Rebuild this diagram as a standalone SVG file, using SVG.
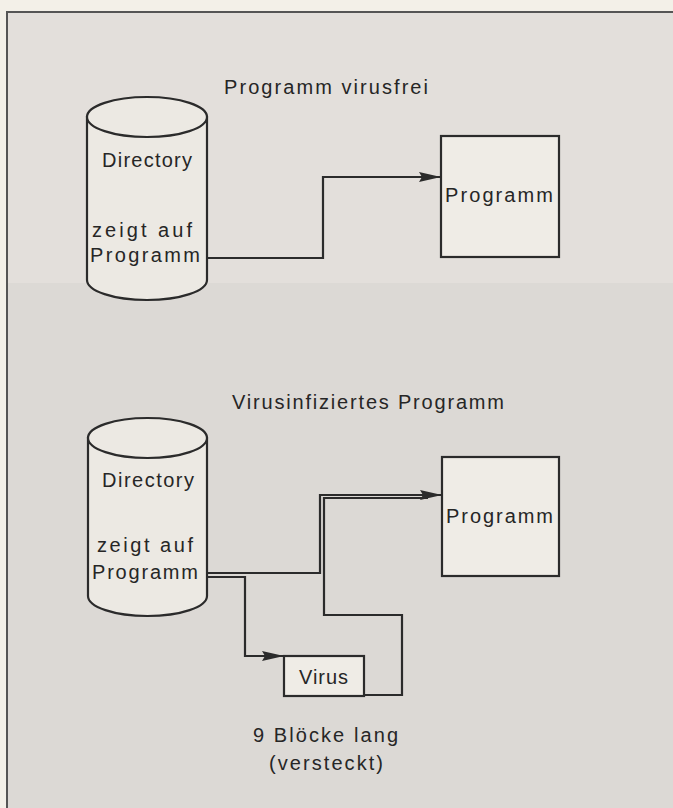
<svg xmlns="http://www.w3.org/2000/svg" width="673" height="808" viewBox="0 0 673 808">
<defs>
<style>
.ln{fill:none;stroke:#2b2b2b;stroke-width:2.2;stroke-linejoin:miter}
.sh{fill:#ece9e3;stroke:#2b2b2b;stroke-width:2.2}
.bx{fill:#efece6;stroke:#2b2b2b;stroke-width:2.2}
.t{font-family:"Liberation Sans",Arial,sans-serif;font-size:20px;fill:#262626;text-anchor:middle}
</style>
<marker id="ah" markerUnits="userSpaceOnUse" markerWidth="24" markerHeight="14" refX="22" refY="7" orient="auto">
<path d="M0,2 L22,7 L0,12 L3,7 z" fill="#2b2b2b"/>
</marker>
</defs>
<rect x="0" y="0" width="673" height="808" fill="#f3f0e8"/>
<rect x="7" y="12" width="666" height="796" fill="#dcd9d5"/>
<rect x="8" y="13" width="665" height="270" fill="#e3dfdb"/>
<path d="M7,808 V12 H673" fill="none" stroke="#555" stroke-width="2"/>

<g id="title-top"><text class="t" x="326" y="94" textLength="204" lengthAdjust="spacing">Programm virusfrei</text></g>

<g id="dir-top">
<path class="sh" d="M87,117 V280 A60,20 0 0 0 207,280 V117 Z"/>
<ellipse class="sh" cx="147" cy="117" rx="60" ry="20"/>
<text class="t" x="147" y="167" textLength="90" lengthAdjust="spacing">Directory</text>
<text class="t" x="142" y="237" textLength="100" lengthAdjust="spacing">zeigt auf</text>
<text class="t" x="145" y="262" textLength="110" lengthAdjust="spacing">Programm</text>
</g>

<g id="prog-top">
<rect class="bx" x="441" y="136" width="118" height="121"/>
<text class="t" x="499" y="202" textLength="108" lengthAdjust="spacing">Programm</text>
</g>

<g id="title-bottom"><text class="t" x="368" y="409" textLength="272" lengthAdjust="spacing">Virusinfiziertes Programm</text></g>

<g id="dir-bottom">
<path class="sh" d="M88,438 V596 A59.5,20 0 0 0 207,596 V438 Z"/>
<ellipse class="sh" cx="147.5" cy="438" rx="59.5" ry="20"/>
<text class="t" x="148" y="487" textLength="92" lengthAdjust="spacing">Directory</text>
<text class="t" x="145" y="552" textLength="96" lengthAdjust="spacing">zeigt auf</text>
<text class="t" x="145" y="579" textLength="106" lengthAdjust="spacing">Programm</text>
</g>

<g id="prog-bottom">
<rect class="bx" x="442" y="457" width="117" height="119"/>
<text class="t" x="499.5" y="523" textLength="107" lengthAdjust="spacing">Programm</text>
</g>

<g id="virus">
<rect class="bx" x="284" y="656" width="80" height="40"/>
<text class="t" x="323.5" y="684" textLength="49" lengthAdjust="spacing">Virus</text>
</g>

<g id="virus-note">
<text class="t" x="325.5" y="742" textLength="145" lengthAdjust="spacing">9 Blöcke lang</text>
<text class="t" x="326" y="770" textLength="114" lengthAdjust="spacing">(versteckt)</text>
</g>

<g id="connectors">
<path class="ln" d="M207,258 H323 V177 H441" marker-end="url(#ah)"/>
<path class="ln" d="M207,573 H320 V495 H442" marker-end="url(#ah)"/>
<path class="ln" d="M207,577 H245 V656 H284" marker-end="url(#ah)"/>
<path class="ln" d="M364,695 H402 V615 H324 V498 H428"/>
</g>
</svg>
